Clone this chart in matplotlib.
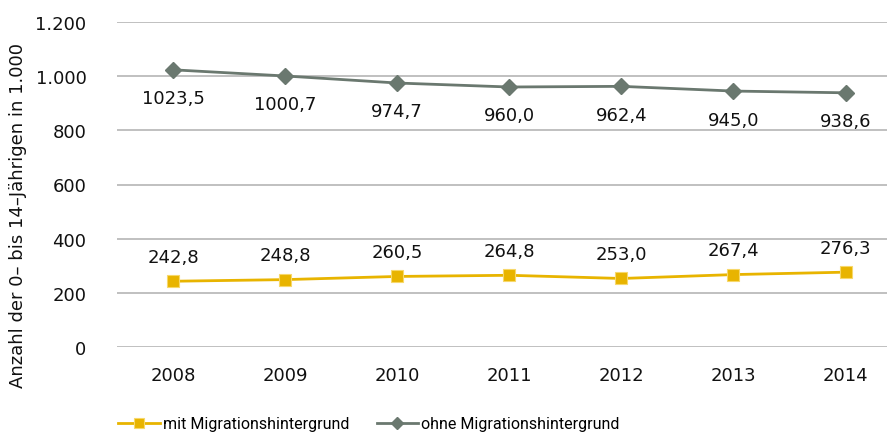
import numpy as np
import matplotlib.pyplot as plt

years = ['2008', '2009', '2010', '2011', '2012', '2013', '2014']
mit = [242.8, 248.8, 260.5, 264.8, 253.0, 267.4, 276.3]
ohne = [1023.5, 1000.7, 974.7, 960.0, 962.4, 945.0, 938.6]
yticks = [0, 200, 400, 600, 800, 1000, 1200]
ytick_labels = ['0', '200', '400', '600', '800', '1.000', '1.200']

yellow = '#E8B400'
gray = '#6A786F'


def fmt(v):
    return f'{v:.1f}'.replace('.', ',')


fig = plt.figure(figsize=(8.88, 4.39), dpi=100)
ax = fig.add_axes([117 / 888, 1 - 348 / 439, 770 / 888, 325 / 439])

x = np.arange(len(years))
ax.plot(x, mit, color=yellow, lw=2, marker='s', ms=9, mec='#F7D86A', mew=0.8,
        label='mit Migrationshintergrund', zorder=3)
ax.plot(x, ohne, color=gray, lw=2, marker='D', ms=8, mec=gray,
        label='ohne Migrationshintergrund', zorder=3)

for xi, v in zip(x, mit):
    ax.annotate(fmt(v), (xi, v), xytext=(0, 11), textcoords='offset points',
                ha='center', va='bottom', fontsize=13, color='#111111')
for xi, v in zip(x, ohne):
    ax.annotate(fmt(v), (xi, v), xytext=(0, -14), textcoords='offset points',
                ha='center', va='top', fontsize=13, color='#111111')

ax.set_xlim(-0.5, 6.37)
ax.set_ylim(0, 1200)
ax.set_yticks(yticks)
ax.set_yticklabels(ytick_labels)
ax.set_xticks(x)
ax.set_xticklabels(years)
ax.tick_params(length=0, labelsize=13, colors='#111111')
ax.tick_params(axis='x', pad=14)
ax.tick_params(axis='y', pad=22)
ax.grid(axis='y', color='#B5B5B5', lw=1.2)
ax.set_axisbelow(True)
for s in ax.spines.values():
    s.set_visible(False)

fig.text(18 / 888, 1 - 215 / 439, 'Anzahl der 0– bis 14–Jährigen in 1.000',
         rotation=90, ha='center', va='center', fontsize=13, color='#111111')

fig.legend(loc='center left', bbox_to_anchor=(104 / 888, 1 - 425 / 439), ncol=2,
           frameon=False, prop={'family': 'Roboto', 'size': 11.5},
           handlelength=2.6, handletextpad=0.2, columnspacing=1.7, markerscale=0.8)

fig.savefig('out.png', dpi=100)
